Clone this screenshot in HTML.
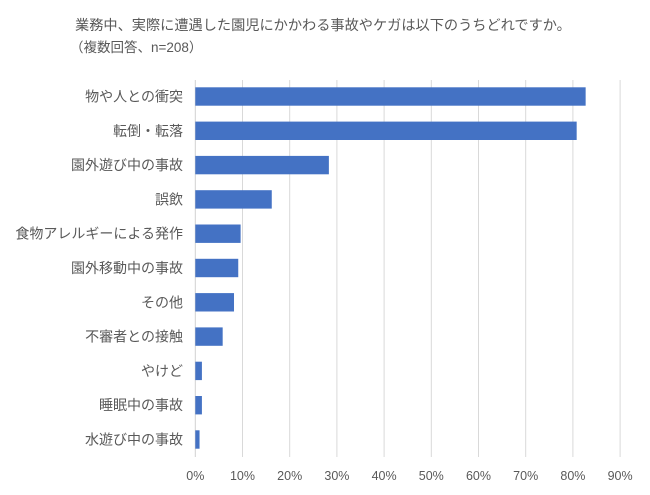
<!DOCTYPE html>
<html><head><meta charset="utf-8"><style>
body{margin:0;background:#fff;}
svg{display:block;font-family:"Liberation Sans","Noto Sans CJK JP",sans-serif;}
</style></head><body>
<svg id="chart" width="650" height="495" viewBox="0 0 650 495" xmlns="http://www.w3.org/2000/svg">
<text x="75" y="30" font-size="14.2" fill="#595959">業務中、実際に遭遇した園児にかかわる事故やケガは以下のうちどれですか。</text>
<text x="70" y="52" font-size="13.5" fill="#595959">（複数回答、n=208）</text>
<g id="grid"></g><g id="bars"></g><g id="ylabels"></g><g id="xlabels"></g>
</svg>
<script>
const categories=["物や人との衝突","転倒・転落","園外遊び中の事故","誤飲","食物アレルギーによる発作","園外移動中の事故","その他","不審者との接触","やけど","睡眠中の事故","水遊び中の事故"];
const values=[82.7,80.8,28.3,16.2,9.6,9.1,8.2,5.8,1.4,1.4,0.9];
const ticks=[0,10,20,30,40,50,60,70,80,90];
const tickLabels=["0%","10%","20%","30%","40%","50%","60%","70%","80%","90%"];
const NS="http://www.w3.org/2000/svg";
const x=v=>195.3+v*4.72;
const yc=i=>96.5+i*34.3;
function mk(t,a){const e=document.createElementNS(NS,t);for(const k in a)e.setAttribute(k,a[k]);return e;}
const grid=document.getElementById('grid'),bars=document.getElementById('bars'),yl=document.getElementById('ylabels'),xl=document.getElementById('xlabels');
ticks.forEach((t,i)=>{
 const l=mk('line',{x1:x(t),x2:x(t),y1:80,y2:457,stroke:i==0?'#d0d0d0':'#d9d9d9','stroke-width':1});
 
 
 grid.appendChild(l);
 const tx=mk('text',{x:x(t),y:480,'font-size':12.5,fill:'#595959','text-anchor':'middle'});
 tx.textContent=tickLabels[i];
 
 
 xl.appendChild(tx);
});
categories.forEach((c,i)=>{
 const r=mk('rect',{x:x(0),y:yc(i)-9.2,width:x(values[i])-x(0),height:18.4,fill:'#4472c4'});
 
 
 bars.appendChild(r);
 const t=mk('text',{x:183,y:yc(i)+5,'font-size':14,fill:'#595959','text-anchor':'end'});
 t.textContent=c;
 
 
 yl.appendChild(t);
});
</script>
</body></html>
